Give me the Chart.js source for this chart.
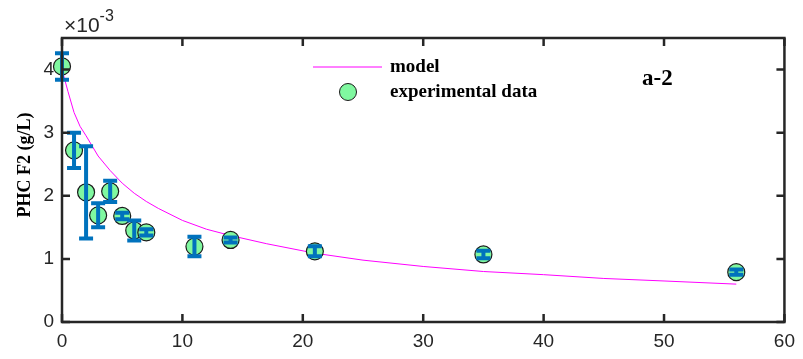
<!DOCTYPE html>
<html>
<head>
<meta charset="utf-8">
<script src="https://cdn.jsdelivr.net/npm/chart.js@4/dist/chart.umd.min.js"></script>
<style>
  body { margin: 0; background: #fff; }
  canvas { display: block; }
</style>
</head>
<body>
<canvas id="myChart" width="803" height="359"></canvas>
<script>
// experimental data (PHC F2, units of 1e-3 g/L)
var days = [0, 1, 2, 3, 4, 5, 6, 7, 11, 14, 21, 35, 56];
var phc = [4.05, 2.72, 2.055, 1.69, 2.07, 1.68, 1.45, 1.42, 1.195, 1.30, 1.12, 1.07, 0.79];
var phcErr = [0.21, 0.28, 0.73, 0.19, 0.17, 0.05, 0.16, 0.05, 0.155, 0.04, 0.08, 0.06, 0.04];

// model curve
var modelDays = [0, 0.5, 1, 1.5, 2, 3, 4, 5, 6, 7, 8, 10, 12, 14, 17, 21, 25, 30, 35, 40, 45, 50, 56];
var modelPhc = [4.0, 3.65, 3.32, 3.10, 2.95, 2.63, 2.40, 2.20, 2.04, 1.91, 1.80, 1.61, 1.47, 1.37, 1.24, 1.09, 0.98, 0.88, 0.80, 0.75, 0.69, 0.65, 0.60];

var xTicks = [0, 10, 20, 30, 40, 50, 60];
var yTicks = [0, 1, 2, 3, 4];

var axisColor = "#262626";
var blue = "#0072BD";
var green = "#80F8A0";

var points = [];
days.forEach(function (d, i) { points.push({ x: d, y: phc[i] }); });
var model = [];
modelDays.forEach(function (d, i) { model.push({ x: d, y: modelPhc[i] }); });

var decor = {
    id: "decor",
    afterDatasetsDraw: function (chart) {
        var ctx = chart.ctx, x = chart.scales.x, y = chart.scales.y;
        ctx.save();
        ctx.strokeStyle = blue;
        ctx.lineWidth = 4;
        days.forEach(function (d, i) {
            var px = x.getPixelForValue(d);
            var top = y.getPixelForValue(phc[i] + phcErr[i]);
            var bot = y.getPixelForValue(phc[i] - phcErr[i]);
            ctx.beginPath();
            ctx.moveTo(px, top); ctx.lineTo(px, bot);
            ctx.moveTo(px - 7, top); ctx.lineTo(px + 7, top);
            ctx.moveTo(px - 7, bot); ctx.lineTo(px + 7, bot);
            ctx.stroke();
        });
        ctx.restore();
    },
    afterDraw: function (chart) {
        var ctx = chart.ctx, a = chart.chartArea, x = chart.scales.x, y = chart.scales.y;
        ctx.save();
        // box
        ctx.strokeStyle = axisColor;
        ctx.lineWidth = 2.5;
        ctx.strokeRect(a.left, a.top, a.right - a.left, a.bottom - a.top);
        // inward ticks
        ctx.beginPath();
        xTicks.forEach(function (t) {
            var px = x.getPixelForValue(t);
            ctx.moveTo(px, a.bottom); ctx.lineTo(px, a.bottom - 8);
            ctx.moveTo(px, a.top); ctx.lineTo(px, a.top + 8);
        });
        yTicks.forEach(function (t) {
            var py = y.getPixelForValue(t);
            ctx.moveTo(a.left, py); ctx.lineTo(a.left + 8, py);
            ctx.moveTo(a.right, py); ctx.lineTo(a.right - 8, py);
        });
        ctx.stroke();

        // exponent
        ctx.fillStyle = axisColor;
        ctx.textBaseline = "alphabetic";
        ctx.textAlign = "left";
        ctx.font = "21px 'Liberation Sans'";
        ctx.fillText("\u00d710", 64, 32);
        var w = ctx.measureText("\u00d710").width;
        ctx.font = "16px 'Liberation Sans'";
        ctx.fillText("-3", 64 + w, 21);

        // y label
        ctx.save();
        ctx.translate(25, 165);
        ctx.rotate(-Math.PI / 2);
        ctx.textAlign = "center";
        ctx.textBaseline = "middle";
        ctx.font = "bold 18px 'Liberation Serif'";
        ctx.fillStyle = "#000";
        ctx.fillText("PHC F2 (g/L)", 0, 0);
        ctx.restore();

        // legend
        ctx.strokeStyle = "#FF00FF";
        ctx.lineWidth = 1;
        ctx.beginPath();
        ctx.moveTo(313, 67); ctx.lineTo(382, 67);
        ctx.stroke();
        ctx.beginPath();
        ctx.arc(348, 92, 8.5, 0, Math.PI * 2);
        ctx.fillStyle = green;
        ctx.fill();
        ctx.strokeStyle = "#1a1a1a";
        ctx.stroke();
        ctx.fillStyle = "#000";
        ctx.font = "bold 19px 'Liberation Serif'";
        ctx.textBaseline = "middle";
        ctx.fillText("model", 390, 67);
        ctx.fillText("experimental data", 390, 92);
        ctx.font = "bold 23px 'Liberation Serif'";
        ctx.fillText("a-2", 642, 79);
        ctx.restore();
    }
};

var chart = new Chart(document.getElementById("myChart").getContext("2d"), {
    type: "scatter",
    data: {
        datasets: [
            {
                label: "experimental data",
                data: points,
                pointRadius: 8.5,
                pointBackgroundColor: green,
                pointBorderColor: "#1a1a1a",
                pointBorderWidth: 1.2,
                clip: false,
                order: 1
            },
            {
                label: "model",
                data: model,
                showLine: true,
                borderColor: "#FF00FF",
                borderWidth: 1,
                pointRadius: 0,
                tension: 0,
                order: 2
            }
        ]
    },
    options: {
        responsive: false,
        animation: false,
        layout: { padding: { top: 38, right: 11, left: 0, bottom: 0 } },
        plugins: { legend: { display: false }, tooltip: { enabled: false } },
        scales: {
            x: {
                type: "linear",
                min: 0,
                max: 60,
                afterBuildTicks: function (s) { s.ticks = xTicks.map(function (v) { return { value: v }; }); },
                afterFit: function (s) { s.height = 37; },
                grid: { display: false, drawTicks: false },
                border: { display: false },
                ticks: { color: axisColor, font: { family: "'Liberation Sans'", size: 19 }, padding: 8, maxRotation: 0 }
            },
            y: {
                type: "linear",
                min: 0,
                max: 4.5,
                afterBuildTicks: function (s) { s.ticks = yTicks.map(function (v) { return { value: v }; }); },
                afterFit: function (s) { s.width = 62; },
                grid: { display: false, drawTicks: false },
                border: { display: false },
                ticks: { color: axisColor, font: { family: "'Liberation Sans'", size: 19 }, padding: 8 }
            }
        }
    },
    plugins: [decor]
});
</script>
</body>
</html>
